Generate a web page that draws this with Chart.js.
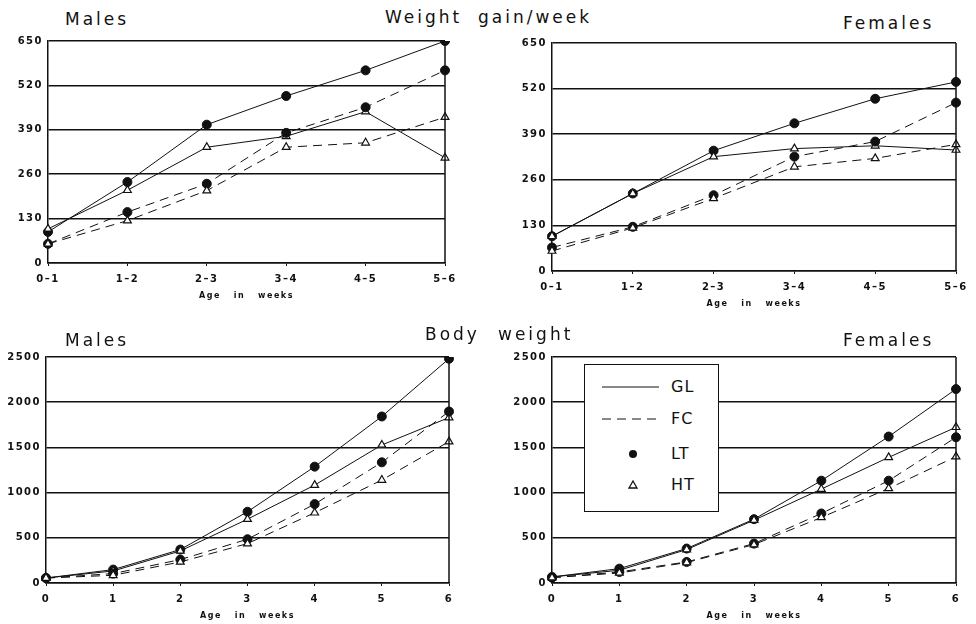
<!DOCTYPE html>
<html>
<head>
<meta charset="utf-8">
<script src="https://cdn.jsdelivr.net/npm/chart.js@4/dist/chart.umd.min.js"></script>
<style>
  body { margin: 0; background: #fff; width: 976px; height: 624px; overflow: hidden; position: relative; }
  canvas { position: absolute; }
  .ttl { position: absolute; font-family: "DejaVu Sans", sans-serif; font-size: 17px; letter-spacing: 3px; line-height: 17px; color: #111; white-space: nowrap; }
  #legend { position: absolute; left: 584px; top: 364px; width: 133px; height: 146px; border: 1.5px solid #111; background: #fff; }
  #legend .row { position: absolute; left: 0; width: 133px; height: 20px; }
  #legend .lbl { position: absolute; left: 86px; top: 0; font-family: "DejaVu Sans", sans-serif; font-size: 16px; letter-spacing: 1px; line-height: 20px; color: #111; }
  #legend svg { position: absolute; left: 0; top: 0; }
</style>
</head>
<body>
<canvas id="gainMales" width="454" height="270" style="left:3px;top:33px"></canvas>
<canvas id="gainFemales" width="461" height="276" style="left:507px;top:35px"></canvas>
<canvas id="bodyMales" width="460" height="274" style="left:1px;top:349px"></canvas>
<canvas id="bodyFemales" width="461" height="274" style="left:507px;top:349px"></canvas>

<div class="ttl" style="left:65px;top:11px">Males</div>
<div class="ttl" style="left:385px;top:9px">Weight</div>
<div class="ttl" style="left:478px;top:9px">gain/week</div>
<div class="ttl" style="left:843px;top:15px">Females</div>
<div class="ttl" style="left:65px;top:332px">Males</div>
<div class="ttl" style="left:425px;top:326px">Body</div>
<div class="ttl" style="left:498px;top:326px">weight</div>
<div class="ttl" style="left:843px;top:332px">Females</div>

<div id="legend">
  <div class="row" style="top:12px">
    <svg width="80" height="20"><line x1="17" y1="10" x2="74" y2="10" stroke="#111" stroke-width="1"/></svg>
    <div class="lbl">GL</div>
  </div>
  <div class="row" style="top:44px">
    <svg width="80" height="20"><line x1="17" y1="10" x2="74" y2="10" stroke="#111" stroke-width="1" stroke-dasharray="9,6"/></svg>
    <div class="lbl">FC</div>
  </div>
  <div class="row" style="top:79px">
    <svg width="80" height="20"><circle cx="48" cy="10" r="4" fill="#111"/></svg>
    <div class="lbl">LT</div>
  </div>
  <div class="row" style="top:110px">
    <svg width="80" height="20"><polygon points="48,6 52,13 44,13" fill="#fff" stroke="#111" stroke-width="1.3"/></svg>
    <div class="lbl">HT</div>
  </div>
</div>

<script>
// x categories
const weekRanges = ['0–1', '1–2', '2–3', '3–4', '4–5', '5–6'];
const weeks = ['0', '1', '2', '3', '4', '5', '6'];

// weight gain per week (g), males
const gainMalesGL_LT = [91, 237, 405, 489, 564, 650];
const gainMalesGL_HT = [100, 213, 339, 371, 443, 308];
const gainMalesFC_LT = [56, 149, 232, 381, 456, 564];
const gainMalesFC_HT = [56, 124, 212, 339, 352, 427];

// weight gain per week (g), females
const gainFemalesGL_LT = [99, 221, 343, 421, 491, 539];
const gainFemalesGL_HT = [99, 221, 326, 349, 357, 345];
const gainFemalesFC_LT = [67, 126, 216, 326, 369, 480];
const gainFemalesFC_HT = [57, 123, 207, 297, 321, 361];

// body weight (g), males
const bodyMalesGL_LT = [55, 148, 370, 788, 1287, 1842, 2481];
const bodyMalesGL_HT = [55, 133, 355, 706, 1083, 1527, 1830];
const bodyMalesFC_LT = [55, 104, 259, 484, 873, 1335, 1897];
const bodyMalesFC_HT = [55, 85, 233, 436, 777, 1139, 1564];

// body weight (g), females
const bodyFemalesGL_LT = [67, 159, 381, 706, 1132, 1620, 2145];
const bodyFemalesGL_HT = [67, 141, 370, 695, 1039, 1390, 1723];
const bodyFemalesFC_LT = [59, 122, 233, 436, 769, 1132, 1612];
const bodyFemalesFC_HT = [59, 111, 226, 425, 725, 1046, 1398];

const ink = '#111';

// right-hand frame line of each plot box, plus wider tick lettering
const framePlugin = {
    id: 'frame',
    beforeDraw(chart) {
        chart.ctx.letterSpacing = '1.5px';
    },
    afterDatasetsDraw(chart) {
        const { ctx, chartArea } = chart;
        ctx.save();
        ctx.strokeStyle = ink;
        ctx.lineWidth = 1.5;
        ctx.beginPath();
        ctx.moveTo(chartArea.right, chartArea.top);
        ctx.lineTo(chartArea.right, chartArea.bottom);
        ctx.stroke();
        ctx.restore();
    }
};

function noPad(s) {
    s.paddingLeft = 0;
    s.paddingRight = 0;
    s.paddingTop = 0;
    s.paddingBottom = 0;
}

function series(data, dashed, tri) {
    return {
        data: data,
        borderColor: ink,
        borderWidth: 1,
        borderDash: dashed ? [9, 6] : [],
        pointStyle: tri ? 'triangle' : 'circle',
        pointRadius: tri ? 4.5 : 4.5,
        pointBackgroundColor: tri ? '#fff' : ink,
        pointBorderColor: ink,
        pointBorderWidth: tri ? 1.2 : 1,
        tension: 0,
        fill: false
    };
}

function makeChart(id, labels, gl_lt, gl_ht, fc_lt, fc_ht, yMax, yStep) {
    const ctx = document.getElementById(id);
    return new Chart(ctx, {
        type: 'line',
        data: {
            labels: labels,
            datasets: [
                series(fc_ht, true, true),
                series(fc_lt, true, false),
                series(gl_ht, false, true),
                series(gl_lt, false, false)
            ]
        },
        options: {
            responsive: false,
            animation: false,
            layout: { autoPadding: false, padding: { top: 8, right: 12, left: 0, bottom: 0 } },
            plugins: { legend: { display: false }, tooltip: { enabled: false } },
            scales: {
                x: {
                    offset: false,
                    grid: { display: true, drawOnChartArea: false, tickLength: 3, color: ink, lineWidth: 1 },
                    border: { display: true, color: ink, width: 1.5 },
                    ticks: {
                        color: ink, padding: 7, maxRotation: 0, autoSkip: false,
                        font: { family: 'DejaVu Sans', size: 10, weight: 'bold' }
                    },
                    title: {
                        display: true, text: 'Age   in   weeks', color: ink,
                        padding: { top: 0, bottom: 2 },
                        font: { family: 'DejaVu Sans', size: 8, weight: 'bold' }
                    },
                    afterFit(s) { s.height = 40; noPad(s); }
                },
                y: {
                    min: 0,
                    max: yMax,
                    ticks: {
                        stepSize: yStep, color: ink, padding: 5,
                        callback: v => String(v),
                        font: { family: 'DejaVu Sans', size: 10, weight: 'bold' }
                    },
                    grid: { color: ink, lineWidth: 1.5, drawTicks: false },
                    border: { display: true, color: ink, width: 1.5 },
                    afterFit(s) { s.width = 45; noPad(s); }
                }
            }
        },
        plugins: [framePlugin]
    });
}

makeChart('gainMales', weekRanges, gainMalesGL_LT, gainMalesGL_HT, gainMalesFC_LT, gainMalesFC_HT, 650, 130);
makeChart('gainFemales', weekRanges, gainFemalesGL_LT, gainFemalesGL_HT, gainFemalesFC_LT, gainFemalesFC_HT, 650, 130);
makeChart('bodyMales', weeks, bodyMalesGL_LT, bodyMalesGL_HT, bodyMalesFC_LT, bodyMalesFC_HT, 2500, 500);
makeChart('bodyFemales', weeks, bodyFemalesGL_LT, bodyFemalesGL_HT, bodyFemalesFC_LT, bodyFemalesFC_HT, 2500, 500);
</script>
</body>
</html>
